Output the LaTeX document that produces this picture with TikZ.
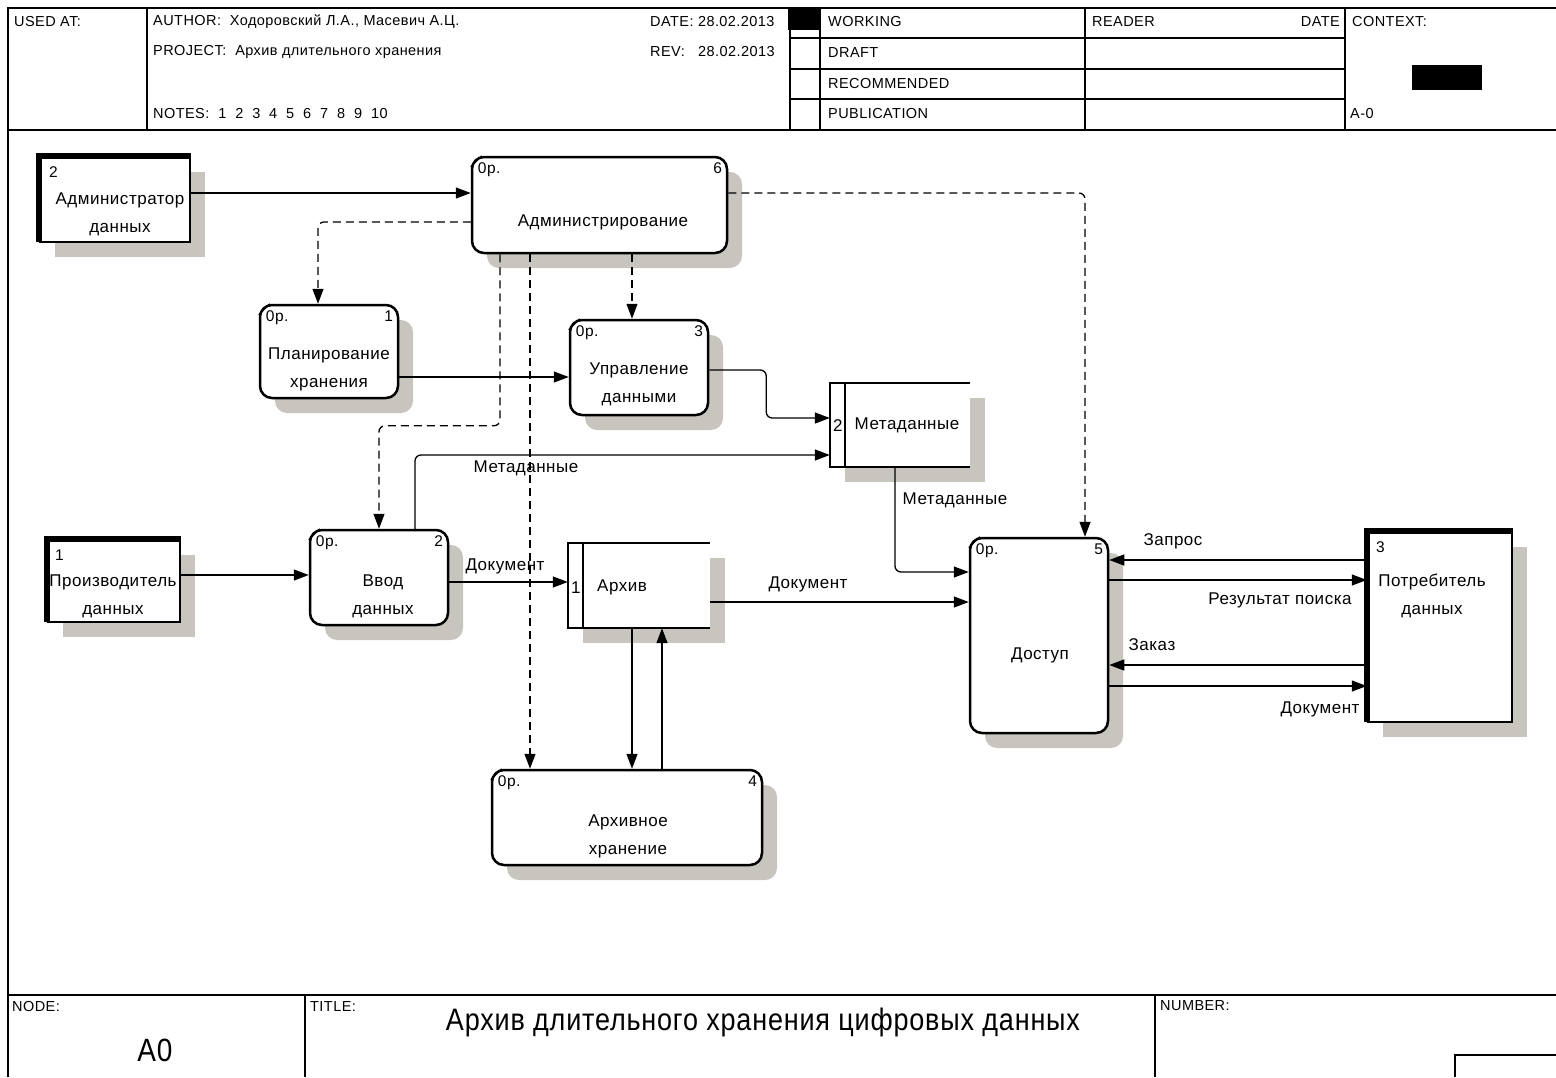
\documentclass[tikz,border=0pt]{standalone}
\usepackage{fontspec}
\setmainfont{Liberation Sans}[LetterSpace=3.0]
\usetikzlibrary{arrows.meta,fit,shadows,calc}
\definecolor{shc}{RGB}{200,197,191}
\begin{document}
\begin{tikzpicture}[x=1pt,y=-1pt,
  every node/.style={inner sep=0pt},
  lab/.style={font=\fontsize{17}{28}\selectfont, align=center},
  hdr/.style={font=\fontsize{14.5}{16}\selectfont, anchor=west},
  cornerlab/.style={font=\fontsize{15.5}{17}\selectfont, inner sep=0pt},
  shad/.style={general shadow={fill=shc, shadow xshift=15pt, shadow yshift=-15pt}},
  proc/.style={draw, line width=2.5pt, rounded corners=12pt, fill=white, shad,
     label={[cornerlab, anchor=north west, xshift=7pt, yshift=-7pt]north west:0р.},
     label={[cornerlab, anchor=north east, xshift=-6pt, yshift=-7pt]north east:#1}},
  ext/.style={draw, line width=2.5pt, fill=white, shad},
  store/.style={fill=white, shad},
  arr/.style={line width=1.3pt, -{Triangle[length=15pt,width=11pt]}},
  darr/.style={arr, dash pattern=on 8pt off 5pt},
  frame/.style={line width=1.5pt}
]
\useasboundingbox (0,0) rectangle (1556,1077);

% ---------- frame and header ----------
\draw[frame] (8,1077) -- (8,8) -- (1556,8);
\draw[line width=2pt] (8,130) -- (1556,130);
\draw[frame] (147,8) -- (147,130);
\draw[frame] (790,8) -- (790,130);
\draw[frame] (820,8) -- (820,130);
\draw[frame] (1085,8) -- (1085,130);
\draw[frame] (1345,8) -- (1345,130);
\foreach \yy in {38,69,99} \draw[frame] (790,\yy) -- (1345,\yy);

\node[hdr] (hused) at (14,22) {USED AT:};
\node[hdr] (hauth) at (153,22) {AUTHOR:\ \ Ходоровский Л.А., Масевич А.Ц.};
\node[hdr] (hproj) at (153,52) {PROJECT:\ \ Архив длительного хранения};
\node[hdr] (hnotes) at (153,114) {NOTES:\ \ 1\ \ 2\ \ 3\ \ 4\ \ 5\ \ 6\ \ 7\ \ 8\ \ 9\ \ 10};
\node[hdr] (hdate) at (650,22) {DATE: 28.02.2013};
\node[hdr] (hrev) at (650,52) {REV:\ \ \ 28.02.2013};
\fill (788,8) rectangle (820,30);
\node[hdr] (hwork) at (828,22) {WORKING};
\node[hdr] (hdraft) at (828,53) {DRAFT};
\node[hdr] (hrec) at (828,84) {RECOMMENDED};
\node[hdr] (hpub) at (828,114) {PUBLICATION};
\node[hdr] (hread) at (1092,22) {READER};
\node[hdr, anchor=east] (hdate2) at (1340,22) {DATE};
\node[hdr] (hctx) at (1352,22) {CONTEXT:};
\fill (1412,65) rectangle (1482,90);
\node[hdr] (ha0) at (1350,114) {A-0};

% ---------- footer ----------
\draw[line width=2.5pt] (8,995) -- (1556,995);
\draw[frame] (305,995) -- (305,1077);
\draw[frame] (1155,995) -- (1155,1077);
\draw[frame] (1455,1077) -- (1455,1055) -- (1556,1055);
\node[hdr] (fnode) at (12,1006) {NODE:};
\node[hdr] (ftitle) at (310,1006) {TITLE:};
\node[hdr] (fnum) at (1160,1006) {NUMBER:};
\node[font=\fontsize{27}{30}\selectfont] (ftext) at (763,1022) {\scalebox{1}[1.15]{Архив длительного хранения цифровых данных}};
\node[font=\fontsize{28}{30}\selectfont] (fa0) at (155,1050) {\scalebox{1}[1.15]{A0}};

% ---------- external entities ----------
\node[ext, fit={(40,157) (190,242)}] (e2) {};
\draw[line width=6pt] ([yshift=1.25pt]e2.south west) -- (e2.north west) -- (e2.north east);
\node[cornerlab, anchor=west] at (49,172) {2};
\node[lab] at (120,214) {Администратор\\данных};

\node[ext, fit={(48,540) (180,622)}] (e1) {};
\draw[line width=6pt] ([yshift=1.25pt]e1.south west) -- (e1.north west) -- (e1.north east);
\node[cornerlab, anchor=west] at (55,555) {1};
\node[lab] at (113,596) {Производитель\\данных};

\node[ext, fit={(1368,532) (1512,722)}] (e3) {};
\draw[line width=6pt] ([yshift=1.25pt]e3.south west) -- (e3.north west) -- (e3.north east);
\node[cornerlab, anchor=west] at (1376,547) {3};
\node[lab] at (1432,596) {Потребитель\\данных};

% ---------- processes ----------
\node[proc=6, fit={(472,157) (727,253)}] (p6) {};
\node[lab] at (603,222) {Администрирование};

\node[proc=1, fit={(260,305) (398,398)}] (p1) {};
\node[lab] at (329,369) {Планирование\\хранения};

\node[proc=3, fit={(570,320) (708,415)}] (p3) {};
\node[lab] at (639,384) {Управление\\данными};

\node[proc=2, fit={(310,530) (448,625)}] (p2) {};
\node[lab] at (383,596) {Ввод\\данных};

\node[proc=5, fit={(970,538) (1108,733)}] (p5) {};
\node[lab] at (1040,655) {Доступ};

\node[proc=4, fit={(492,770) (762,865)}] (p4) {};
\node[lab] at (628,836) {Архивное\\хранение};

\foreach \pp in {p6,p1,p3,p2,p5,p4}
  \draw[line width=1.2pt] ([yshift=-11pt]\pp.north west) -- ([xshift=11pt]\pp.north west);

% ---------- data stores ----------
\node[store, fit={(830,383) (970,467)}] (d2) {};
\draw[line width=2.5pt] (d2.north east) -- (d2.north west) -- (d2.south west) -- (d2.south east);
\draw[line width=2.5pt] ([xshift=15pt]d2.north west) -- ([xshift=15pt]d2.south west);
\node[lab, anchor=west] at (833,426) {2};
\node[lab] at (907,425) {Метаданные};

\node[store, fit={(568,543) (710,628)}] (d1) {};
\draw[line width=2.5pt] (d1.north east) -- (d1.north west) -- (d1.south west) -- (d1.south east);
\draw[line width=2.5pt] ([xshift=15pt]d1.north west) -- ([xshift=15pt]d1.south west);
\node[lab, anchor=west] at (571,588) {1};
\node[lab] at (622,587) {Архив};

% ---------- connectors ----------
\coordinate (a1) at ([yshift=6.5pt]e2.east);
\draw[arr] (a1) -- (a1 -| p6.west);

\draw[darr, rounded corners=6pt] ([yshift=-17pt]p6.west) -| ([xshift=-11pt]p1.north);

\coordinate (c1) at ([xshift=32.5pt]p6.south);
\draw[darr] (c1) -- (c1 |- p3.north);

\coordinate (d0) at ([xshift=-99.5pt]p6.south);
\draw[darr, rounded corners=6pt] (d0) |- ([yshift=103pt]p2.north) -- (p2.north);

\coordinate (e0) at ([xshift=-69.5pt]p6.south);
\draw[darr] (e0) -- (e0 |- p4.north);

\draw[darr, rounded corners=6pt] ([yshift=12pt]p6.east) -| ([xshift=46pt]p5.north);

\coordinate (g0) at ([yshift=-25.5pt]p1.east);
\draw[arr] (g0) -- (g0 -| p3.west);

\draw[arr, rounded corners=6pt] ([yshift=-2.5pt]p3.east) -- ++(57pt,0pt) |- ([yshift=7pt]d2.west);

\draw[arr, rounded corners=6pt] ([xshift=36pt]p2.north) |- ([yshift=-30pt]d2.west);
\node[lab] (lmeta1) at (526,468) {Метаданные};

\draw[arr, rounded corners=6pt] ([xshift=-5pt]d2.south) |- ([yshift=63.5pt]p5.west);
\node[lab] (lmeta2) at (955,500) {Метаданные};

\coordinate (k0) at ([yshift=6pt]e1.east);
\draw[arr] (k0) -- (k0 -| p2.west);

\coordinate (l0) at ([yshift=-4.5pt]p2.east);
\draw[arr] (l0) -- (l0 -| d1.west);
\node[lab] (ldoc1) at (505,566) {Документ};

\coordinate (m0) at ([yshift=-16.5pt]d1.east);
\draw[arr] (m0) -- (m0 -| p5.west);
\node[lab] (ldoc2) at (808,584) {Документ};

\coordinate (n0) at ([xshift=-7pt]d1.south);
\draw[arr] (n0) -- (n0 |- p4.north);

\coordinate (o0) at ([xshift=35pt]p4.north);
\draw[arr] (o0) -- (o0 |- d1.south);

\coordinate (pz) at ([yshift=67pt]e3.west);
\draw[arr] (pz) -- (pz -| p5.east);
\node[lab] (lzap) at (1173,541) {Запрос};

\coordinate (qz) at ([yshift=47pt]e3.west);
\draw[arr] (qz -| p5.east) -- (qz);
\node[lab] (lres) at (1280,600) {Результат поиска};

\coordinate (rz) at ([yshift=-38pt]e3.west);
\draw[arr] (rz) -- (rz -| p5.east);
\node[lab] (lzak) at (1152,645) {Заказ};

\coordinate (sz) at ([yshift=-59pt]e3.west);
\draw[arr] (sz -| p5.east) -- (sz);
\node[lab] (ldoc3) at (1320,709) {Документ};
\end{tikzpicture}
\end{document}
